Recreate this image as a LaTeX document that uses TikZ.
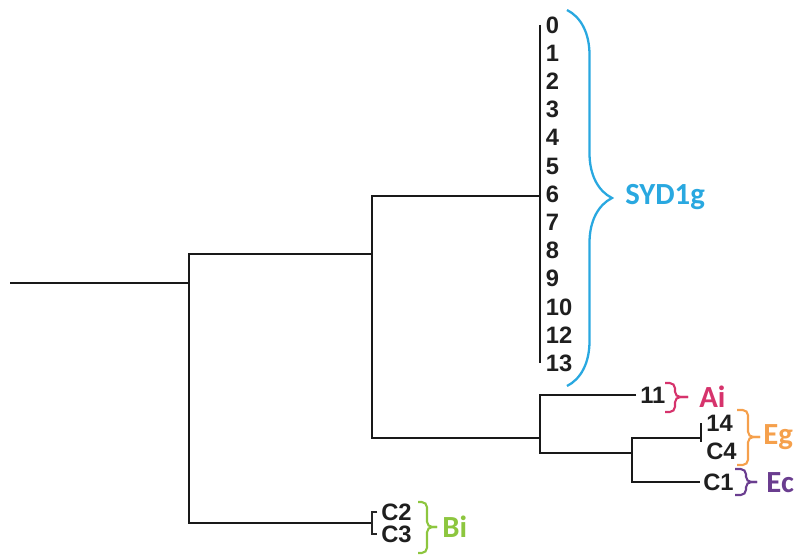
\documentclass[tikz,border=0pt]{standalone}
\usepackage{fontspec}
\setmainfont{Liberation Sans}
\newfontfamily\cladefont{Carlito}
\usepackage{tikz}
\usetikzlibrary{decorations.pathreplacing, positioning}
\usepackage{xcolor}
\definecolor{sydblue}{HTML}{29A8E0}
\definecolor{aipink}{HTML}{D6336C}
\definecolor{egorange}{HTML}{F5A04C}
\definecolor{ecpurple}{HTML}{6A3D8F}
\definecolor{bigreen}{HTML}{8DC63F}

\tikzset{
  branch/.style={line width=1.2pt, black!90},
  leaf/.style={font=\fontsize{13.5}{14}\selectfont\bfseries, text=black!88, inner sep=0pt, anchor=west},
  bigbrace/.style={decorate, decoration={brace, amplitude=0.9cm}, line width=1.3pt},
  smallbrace/.style={line width=1.2pt, rounded corners=3pt},
  cladelabel/.style={font=\cladefont\fontsize{17.5}{18}\selectfont\bfseries, inner sep=0pt, anchor=west},
}

\begin{document}
\begin{tikzpicture}[x=0.02cm, y=-0.02cm]
\useasboundingbox (0,0) rectangle (800,554);

% leaves
\foreach \lab [count=\i from 0] in {0,1,2,3,4,5,6,7,8,9,10,12,13}
  \node[leaf] (s\i) at (545.5,{25+28.2*\i}) {\lab};
\node[leaf] (l11) at (640,395) {11};
\node[leaf] (l14) at (706,423) {14};
\node[leaf] (lC4) at (706,451) {C4};
\node[leaf] (lC1) at (703,482) {C1};
\node[leaf] (lC2) at (381,512) {C2};
\node[leaf] (lC3) at (381,534) {C3};

% branch points
\coordinate (root) at (10,283);
\coordinate (n1) at (189,283);
\coordinate (n2) at (372,254);
\coordinate (syd) at (540,196);
\coordinate (n3) at (540,438);
\coordinate (ai) at (636,395);
\coordinate (n4) at (632,453);
\coordinate (eg) at (701,438);
\coordinate (ec) at (700,482);
\coordinate (bi) at (372,523);

% tree
\draw[branch] (root) -- (n1);
\draw[branch] (n2) -| (n1) |- (bi);
\draw[branch] (syd) -| (n2) |- (n3);
\draw[branch] (ai) -| (n3) |- (n4);
\draw[branch] (eg) -| (n4) |- (ec);

% leaf bars
\draw[branch] ([xshift=-3pt]s0.west) -- ([xshift=-3pt]s12.west);
\draw[branch] ([xshift=-3pt]l14.west) -- ([xshift=-3pt]lC4.north west);
\draw[line width=0.9pt, black!85] ([xshift=-2pt]lC2.west) -| (bi) |- ([xshift=-2pt]lC3.west);

% braces and clade names
\draw[bigbrace, sydblue] (567,10) -- (567,386);
\node[cladelabel, text=sydblue] (syd1g) at (625,197) {SYD1g};

\draw[smallbrace, aipink] (665,383) -| (675,397) -- (688,397);
\draw[smallbrace, aipink] (665,412) -| (675,397) -- (688,397);
\node[cladelabel, text=aipink] (ailab) at (699,397) {Ai};

\draw[smallbrace, egorange] (737,410) -| (748,437) -- (760,437);
\draw[smallbrace, egorange] (737,465) -| (748,437) -- (760,437);
\node[cladelabel, text=egorange] (eglab) at (763,437) {Eg};

\draw[smallbrace, ecpurple] (735,469) -| (746,482) -- (757,482);
\draw[smallbrace, ecpurple] (735,495) -| (746,482) -- (757,482);
\node[cladelabel, text=ecpurple] (eclab) at (766,483) {Ec};

\draw[smallbrace, bigreen] (418,502) -| (427,527) -- (437,527);
\draw[smallbrace, bigreen] (418,553) -| (427,527) -- (437,527);
\node[cladelabel, text=bigreen] (bilab) at (442,527) {Bi};
\end{tikzpicture}
\end{document}
